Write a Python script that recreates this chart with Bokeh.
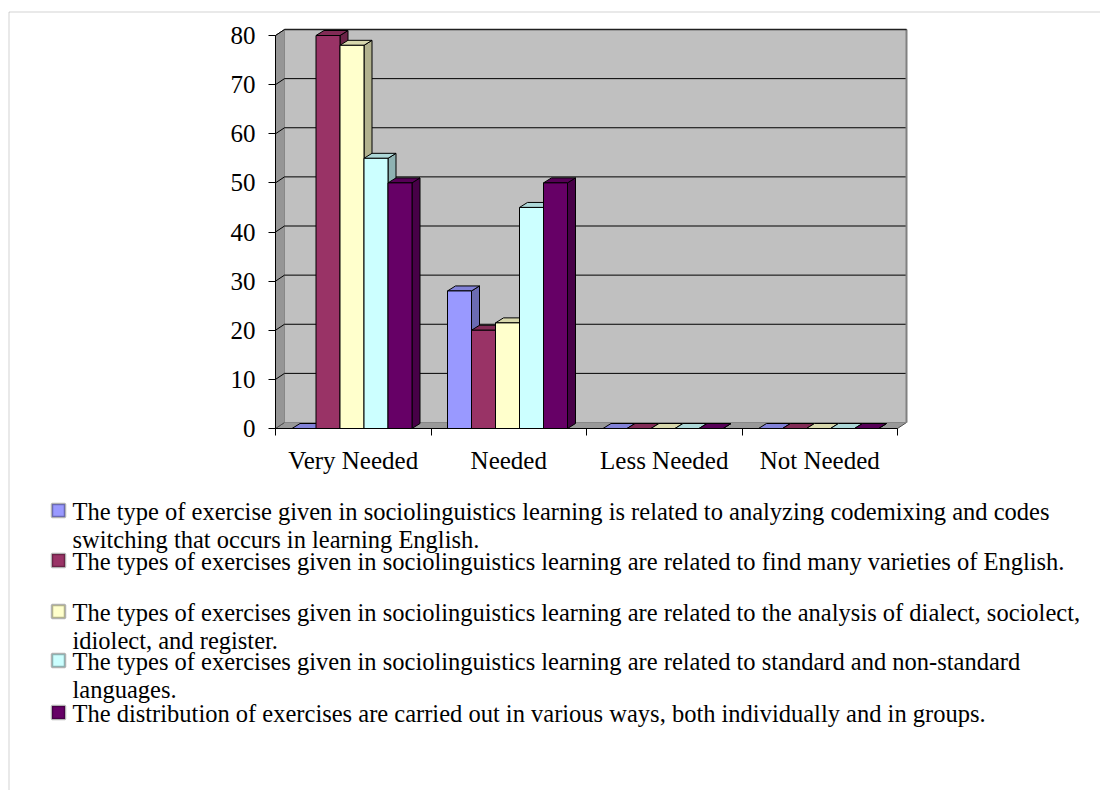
from bokeh.plotting import figure
from bokeh.models import Range1d, FixedTicker, Label, BoxAnnotation, LinearAxis
from bokeh.embed import file_html
from bokeh.resources import INLINE

# ---------------- data ----------------
categories = ["Very Needed", "Needed", "Less Needed", "Not Needed"]
series_1 = [0, 28, 0, 0]
series_2 = [80, 20, 0, 0]
series_3 = [78, 21.5, 0, 0]
series_4 = [55, 45, 0, 0]
series_5 = [50, 50, 0, 0]
y_ticks = [0, 10, 20, 30, 40, 50, 60, 70, 80]
legend_lines = [
    ["The type of exercise given in sociolinguistics learning is related to analyzing codemixing and codes",
     "switching that occurs in learning English."],
    ["The types of exercises given in sociolinguistics learning are related to find many varieties of English."],
    ["The types of exercises given in sociolinguistics learning are related to the analysis of dialect, sociolect,",
     "idiolect, and register."],
    ["The types of exercises given in sociolinguistics learning are related to standard and non-standard",
     "languages."],
    ["The distribution of exercises are carried out in various ways, both individually and in groups."],
]
series_values = [series_1, series_2, series_3, series_4, series_5]

# ---------------- styles ----------------
front_colors = ["#9999FF", "#993366", "#FFFFCC", "#CCFFFF", "#660066"]


def shade(hex_color, f):
    h = hex_color.lstrip("#")
    r, g, b = (int(h[i:i + 2], 16) for i in (0, 2, 4))
    return "#%02x%02x%02x" % (int(r * f), int(g * f), int(b * f))


side_colors = [shade(c, 0.7) for c in front_colors]
top_colors = [shade(c, 0.85) for c in front_colors]

FONT = "Liberation Serif"
FS = "25px"
LEGEND_FS = "24.5px"
W, H = 1100, 790
PX_CAT = 155.5          # pixels per category
PX_UNIT = 4.9125        # pixels per value unit
ZERO_X, ZERO_Y = 275, 428   # pixel position of the data origin


def xd(px):
    return (px - ZERO_X) / PX_CAT


def yd(py):
    return (ZERO_Y - py) / PX_UNIT


p = figure(width=W, height=H, output_backend="svg", toolbar_location=None,
           x_range=Range1d(xd(0), xd(W)), y_range=Range1d(yd(H), yd(0)),
           min_border=0, x_axis_type=None, y_axis_type=None)
p.outline_line_color = None
p.background_fill_color = "white"
p.border_fill_color = "white"
p.xgrid.visible = False
p.ygrid.visible = False

n_cat = len(categories)
ymax = y_ticks[-1]
wdx = 9 / PX_CAT
wdy = 6 / PX_UNIT
bdx = 8 / PX_CAT
bdy = 5 / PX_UNIT
bw = 24 / PX_CAT
group_off = 16.5 / PX_CAT

# walls
p.patch([0, n_cat, n_cat + wdx, wdx], [0, 0, wdy, wdy],
        fill_color="#999999", line_color="#505050", line_width=1)
p.patch([0, wdx, wdx, 0], [0, wdy, ymax + wdy, ymax],
        fill_color="#969696", line_color="#505050", line_width=1)
p.quad(left=wdx, right=n_cat + wdx, bottom=wdy, top=ymax + wdy,
       fill_color="#C0C0C0", line_color=None)
grid_xs, grid_ys = [], []
for v in y_ticks[1:]:
    grid_xs.append([0, wdx, n_cat + wdx])
    grid_ys.append([v, v + wdy, v + wdy])
p.multi_line(grid_xs, grid_ys, line_color="black", line_width=1)
p.line([n_cat + wdx, n_cat + wdx], [wdy, ymax + wdy], line_color="#808080", line_width=2)
p.line([wdx, n_cat + wdx], [ymax + wdy, ymax + wdy], line_color="#202020", line_width=1.5)

# bars
side_xs, side_ys, side_c = [], [], []
top_xs, top_ys, top_c = [], [], []
fl, fr, ft, fc = [], [], [], []
for ci in range(n_cat):
    for si, vals in enumerate(series_values):
        v = vals[ci]
        l = ci + group_off + si * bw
        r = l + bw
        side_xs.append([r, r + bdx, r + bdx, r])
        side_ys.append([0, bdy, v + bdy, v])
        side_c.append(side_colors[si])
        top_xs.append([l, r, r + bdx, l + bdx])
        top_ys.append([v, v, v + bdy, v + bdy])
        top_c.append(top_colors[si])
        fl.append(l); fr.append(r); ft.append(v); fc.append(front_colors[si])

p.patches(side_xs, side_ys, fill_color=side_c, line_color="black", line_width=1)
p.patches(top_xs, top_ys, fill_color=top_c, line_color="black", line_width=1)
p.quad(left=fl, right=fr, bottom=[0] * len(fl), top=ft, fill_color=fc,
       line_color="black", line_width=1)

# axis lines
p.line([0, 0], [0, ymax], line_color="black", line_width=1)
p.line([0, n_cat], [0, 0], line_color="black", line_width=1)

# axes (fixed at the data origin)
yax = LinearAxis(ticker=FixedTicker(ticks=y_ticks), fixed_location=0)
yax.axis_line_color = None
yax.major_tick_out = 7
yax.major_tick_in = 0
yax.minor_tick_line_color = None
yax.major_label_text_font = FONT
yax.major_label_text_font_size = FS
yax.major_label_text_color = "black"
yax.major_label_standoff = 13
p.add_layout(yax, "left")

centers = [i + 0.5 for i in range(n_cat)]
xax = LinearAxis(ticker=FixedTicker(ticks=centers, minor_ticks=list(range(n_cat + 1))),
                 fixed_location=0)
xax.axis_line_color = None
xax.major_tick_line_color = None
xax.major_tick_out = 0
xax.major_tick_in = 0
xax.minor_tick_out = 7
xax.minor_tick_in = 0
xax.minor_tick_line_color = "black"
xax.major_label_overrides = {c: name for c, name in zip(centers, categories)}
xax.major_label_text_font = FONT
xax.major_label_text_font_size = FS
xax.major_label_text_color = "black"
xax.major_label_standoff = 11
p.add_layout(xax, "below")

# legend (vertical middles of each text line, in pixels)
entry_mid = [[511, 538.5], [561], [612, 639.5], [661, 688.5], [713]]
for si, lines in enumerate(legend_lines):
    for li, txt in enumerate(lines):
        p.add_layout(Label(x=xd(72), y=yd(entry_mid[si][li]),
                           text=txt, text_font=FONT, text_font_size=LEGEND_FS,
                           text_color="black", text_baseline="middle", text_align="left"))
    cy = entry_mid[si][0] - 1
    p.add_layout(BoxAnnotation(left=xd(51.5), right=xd(64.5), top=yd(cy - 6.5), bottom=yd(cy + 6.5),
                               fill_color=front_colors[si], fill_alpha=1,
                               line_color="black", line_width=2.5))

# outer border
p.add_layout(BoxAnnotation(left=xd(8.5), right=xd(W + 20), top=yd(11.5), bottom=yd(H + 20),
                           fill_alpha=0, line_color="#6b6b6b", line_width=1))

open("out.html", "w").write(file_html(p, INLINE))
